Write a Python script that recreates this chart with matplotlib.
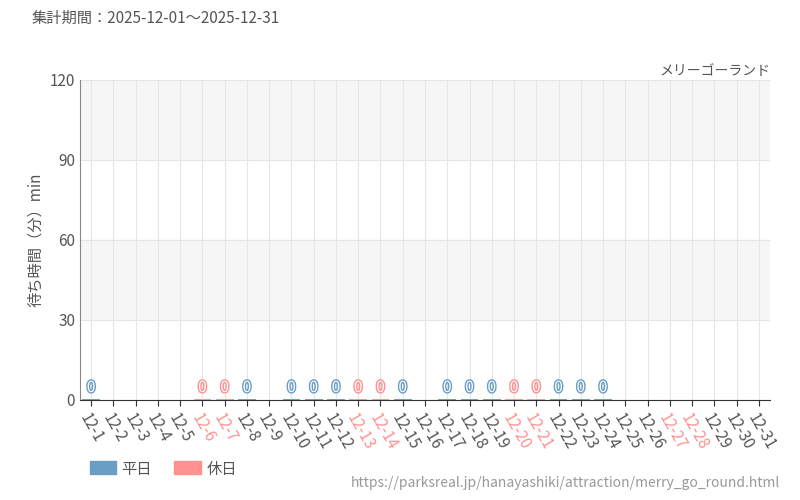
import matplotlib.pyplot as plt
import matplotlib.patheffects as pe
import numpy as np

plt.rcParams['font.family'] = ['Noto Sans CJK JP', 'DejaVu Sans']

days = [f"12-{d}" for d in range(1, 32)]
holidays = {6, 7, 13, 14, 20, 21, 27, 28}
# wait time per day (None = no data)
waits = [0, None, None, None, None, 0, 0, 0, None, 0, 0, 0, 0, 0, 0, None,
         0, 0, 0, 0, 0, 0, 0, 0, None, None, None, None, None, None, None]

BLUE = "#6a9ec5"
PINK = "#ff9090"
TXT = "#555555"

fig = plt.figure(figsize=(8, 5), dpi=100)
ax = fig.add_axes([0.1, 0.2, 0.8625, 0.64])
x = np.arange(len(days))
ax.set_xlim(-0.5, len(days) - 0.5)
ax.set_ylim(0, 120)
for lo in (30, 90):
    ax.axhspan(lo, lo + 30, color="#f6f6f6", zorder=0)
ax.grid(True, color="#e6e6e6", lw=0.8, zorder=1)
ax.set_axisbelow(True)

for i, w in enumerate(waits):
    if w is None:
        continue
    c = PINK if (i + 1) in holidays else BLUE
    ax.bar(i, max(w, 0.4), width=0.8, color=c, zorder=3)
    ax.text(i, w + 1.5, str(w), ha="center", va="bottom", fontsize=11,
            color="white", zorder=4,
            path_effects=[pe.withStroke(linewidth=2, foreground=c)])

ax.set_yticks([0, 30, 60, 90, 120])
ax.tick_params(axis="y", length=0, labelsize=11, labelcolor=TXT)
ax.set_xticks(x)
ax.set_xticklabels(days, rotation=-60, ha="left", rotation_mode="anchor",
                   fontsize=11)
for i, lab in enumerate(ax.get_xticklabels()):
    lab.set_color(PINK if (i + 1) in holidays else TXT)
ax.tick_params(axis="x", length=4, color="#333333")
for s in ("top", "right"):
    ax.spines[s].set_visible(False)
ax.spines["left"].set_color("#888888")
ax.spines["bottom"].set_color("#333333")
ax.set_ylabel("待ち時間（分）min", color=TXT, fontsize=11)

fig.text(0.04, 0.955, "集計期間：2025-12-01～2025-12-31", color=TXT, fontsize=11)
fig.text(0.9625, 0.85, "メリーゴーランド", color=TXT, fontsize=10, ha="right")
fig.patches.append(plt.Rectangle((0.112, 0.052), 0.033, 0.026, color=BLUE,
                                 transform=fig.transFigure))
fig.text(0.152, 0.052, "平日", color=TXT, fontsize=11)
fig.patches.append(plt.Rectangle((0.218, 0.052), 0.033, 0.026, color=PINK,
                                 transform=fig.transFigure))
fig.text(0.258, 0.052, "休日", color=TXT, fontsize=11)
fig.text(0.975, 0.025, "https://parksreal.jp/hanayashiki/attraction/merry_go_round.html",
         color="#999999", fontsize=10, ha="right")
fig.savefig("out.png", dpi=100)
